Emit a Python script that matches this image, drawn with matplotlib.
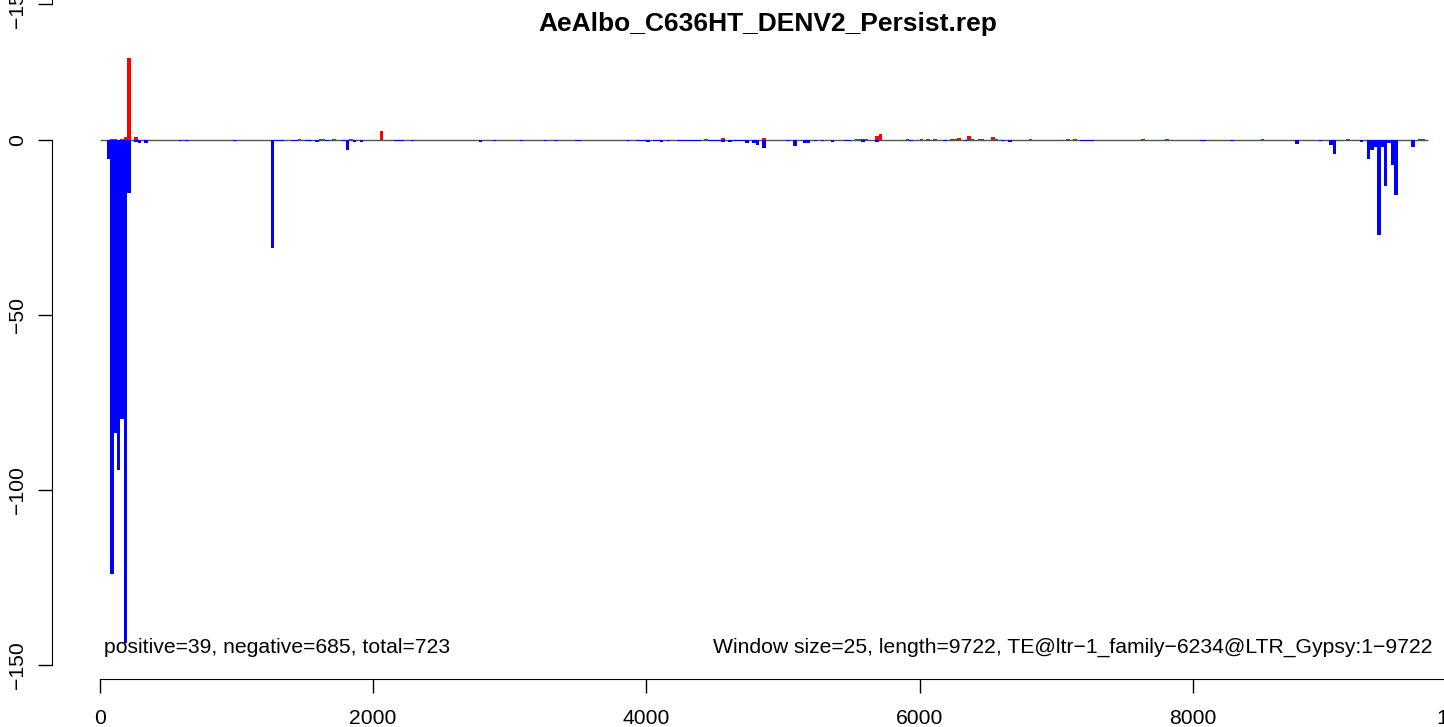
import matplotlib
matplotlib.use("Agg")
from matplotlib import pyplot as plt
import numpy as np

plt.rcParams["font.family"] = ["Liberation Sans", "DejaVu Sans"]

# window start positions (window size 25) and read counts per strand
neg_start = [50, 75, 100, 125, 150, 175, 200, 250, 275, 325, 575, 625, 975,
             1250, 1275, 1300, 1325, 1400, 1425, 1500, 1525, 1575, 1650, 1775,
             1800, 1850, 1900, 2150, 2175, 2200, 2275, 2775, 2875, 3075, 3250,
             3325, 3475, 3500, 3850, 3925, 3950, 3975, 4000, 4050, 4075, 4100,
             4150, 4225, 4250, 4275, 4300, 4325, 4350, 4375, 4450, 4475, 4500,
             4525, 4550, 4600, 4625, 4650, 4675, 4700, 4725, 4775, 4800, 4850,
             5025, 5075, 5150, 5175, 5225, 5275, 5350, 5450, 5475, 5575, 5675,
             5925, 6175, 6325, 6600, 6650, 7175, 7200, 7225, 7250, 8050, 8075,
             8275, 8750, 8925, 9000, 9025, 9225, 9275, 9300, 9325, 9350, 9375,
             9400, 9425, 9450, 9475, 9600]
neg_val = [-5.6, -124, -83.6, -94.4, -79.7, -143.6, -15.3, -0.7, -1.0, -0.8, -0.3, -0.3, -0.3,
           -30.9, -0.3, -0.3, -0.3, -0.3, -0.3, -0.3, -0.3, -0.5, -0.3, -0.3,
           -2.9, -0.5, -0.5, -0.3, -0.3, -0.3, -0.3, -0.7, -0.3, -0.3, -0.3,
           -0.3, -0.3, -0.3, -0.3, -0.3, -0.3, -0.3, -0.5, -0.3, -0.3, -0.5,
           -0.3, -0.3, -0.3, -0.4, -0.3, -0.3, -0.3, -0.3, -0.3, -0.3, -0.3,
           -0.3, -0.5, -0.5, -0.3, -0.3, -0.3, -0.3, -0.8, -0.8, -1.4, -2.3,
           -0.2, -1.7, -0.8, -0.8, -0.3, -0.3, -0.5, -0.3, -0.3, -0.5, -0.5,
           -0.3, -0.3, -0.3, -0.3, -0.5, -0.3, -0.3, -0.3, -0.3, -0.3, -0.3,
           -0.3, -1.3, -0.3, -1.6, -3.9, -0.6, -5.6, -3.0, -1.9, -27.3, -1.9,
           -13.1, -0.9, -7.3, -15.7, -2.0]

pos_start = [75, 100, 150, 175, 200, 250, 1450, 1600, 1625, 1700, 1825, 2050,
             4425, 4550, 4850, 5525, 5550, 5575, 5600, 5675, 5700, 5900, 6000,
             6050, 6100, 6225, 6250, 6275, 6350, 6375, 6425, 6450, 6525, 6550,
             6800, 7075, 7125, 7625, 7800, 8500, 9125, 9650, 9675]
pos_val = [0.3, 0.3, 0.3, 0.9, 23.5, 0.9, 0.3, 0.3, 0.3, 0.3, 0.3, 2.4,
           0.3, 0.4, 0.4, 0.3, 0.3, 0.3, 0.3, 1.0, 1.6, 0.3, 0.3,
           0.3, 0.3, 0.3, 0.3, 0.4, 1.0, 0.3, 0.3, 0.3, 0.7, 0.3,
           0.3, 0.3, 0.3, 0.3, 0.3, 0.3, 0.3, 0.3, 0.3]

win = 25
length = 9722
title = "AeAlbo_C636HT_DENV2_Persist.rep"
left_note = "positive=39, negative=685, total=723"
right_note = "Window size=25, length=9722, TE@ltr\u22121_family\u22126234@LTR_Gypsy:1\u22129722"

W, H = 1444, 727
fig = plt.figure(figsize=(W / 100, H / 100), dpi=100)

# plot region in pixels: left 52, right 1484, top 45, bottom 679
ax = fig.add_axes([52 / W, (H - 679) / H, (1484 - 52) / W, (679 - 45) / H])
ax.set_xlim(-351.4, 10132.5)
ax.set_ylim(-154.0, 27.1)

ax.hlines(0, 0, length, color="#555555", lw=1.0, zorder=1)
ax.bar(np.array(neg_start) + win / 2, neg_val, width=win, color="#0000FF",
       linewidth=0, zorder=2)
ax.bar(np.array(pos_start) + win / 2, pos_val, width=win, color="#FF0000",
       linewidth=0, zorder=2)

ax.annotate(left_note, (0, -145), xytext=(3, 0), textcoords="offset points",
            ha="left", va="center", fontsize=15.2)
ax.annotate(right_note, (length, -145), xytext=(3, 0), textcoords="offset points",
            ha="right", va="center", fontsize=15.2)

for s in ["top", "right"]:
    ax.spines[s].set_visible(False)
ax.spines["left"].set_bounds(-150, 0)
ax.spines["bottom"].set_bounds(0, 10000)
ax.set_xticks(range(0, 10001, 2000))
ax.set_yticks([-150, -100, -50, 0])
ax.tick_params(axis="both", length=10, width=1, labelsize=15.2)
ax.tick_params(axis="x", pad=11.5)
ax.tick_params(axis="y", pad=8)
for lab in ax.get_yticklabels():
    lab.set_rotation(90)
    lab.set_va("center")
ax.set_title(title, fontsize=19.0, fontweight="bold", pad=10)

# bottom of the panel above, cut off by the image edge
ax2 = fig.add_axes([52 / W, (H - 4) / H, (1484 - 52) / W, 0.3])
ax2.set_ylim(-150, 0)
ax2.patch.set_visible(False)
for s in ["top", "right", "bottom"]:
    ax2.spines[s].set_visible(False)
ax2.set_xticks([])
ax2.set_yticks([-150])
ax2.tick_params(axis="y", length=10, width=1, labelsize=15.2, pad=8)
for lab in ax2.get_yticklabels():
    lab.set_rotation(90)
    lab.set_va("center")

fig.savefig("out.png", dpi=100)
